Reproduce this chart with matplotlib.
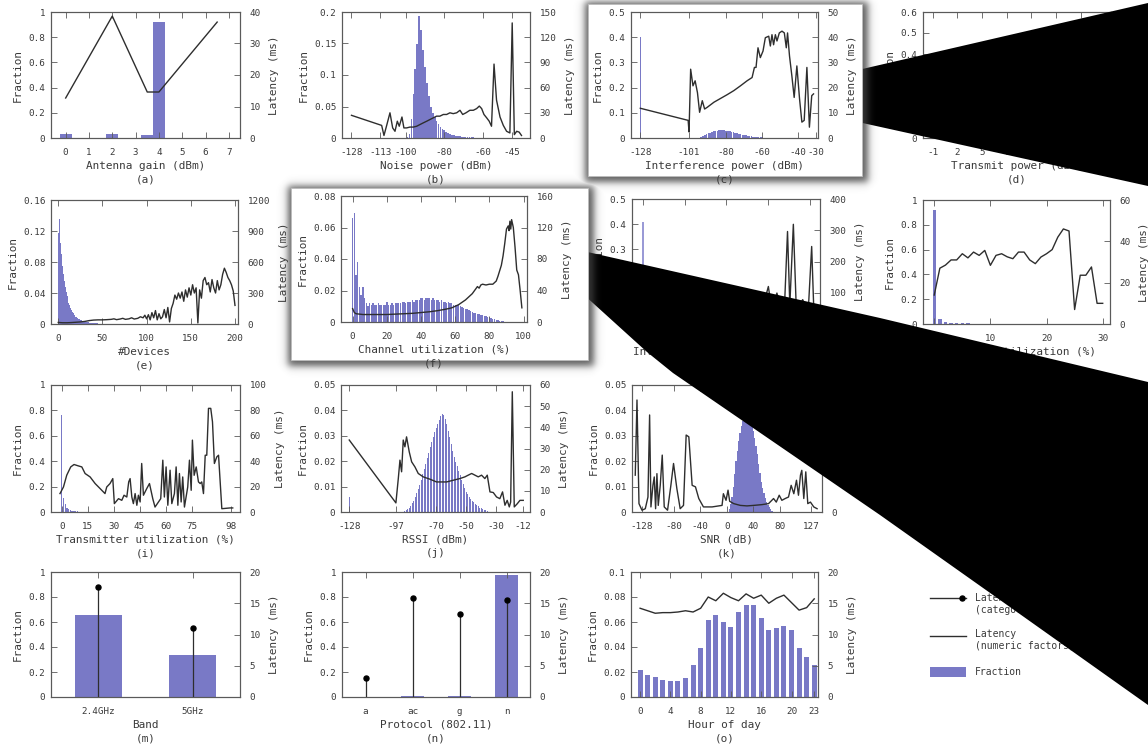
import numpy as np
import matplotlib
matplotlib.use("Agg")
import matplotlib.pyplot as plt
from matplotlib.patches import Polygon, Rectangle
from matplotlib.ticker import FuncFormatter

plt.rcParams['font.family'] = 'DejaVu Sans Mono'

W, H = 1148, 749
BAR = '#7979c6'
LINE = '#2e2e2e'
TXT = '#3a3a3a'
SPINE = '#5a5a5a'

# ---------------- data ----------------
# (a) antenna gain
gain_x = [0, 2, 3.5, 4]
gain_frac = [0.03, 0.03, 0.02, 0.92]
gain_lat_x = [0, 2, 3.5, 4, 6.5]
gain_lat = [12.7, 38.7, 14.6, 14.6, 36.8]

# (b) noise power
noise_bins = list(range(-99, -59))
noise_frac = [0.002, 0.006, 0.03, 0.07, 0.11, 0.15, 0.193, 0.172, 0.14, 0.112,
              0.088, 0.066, 0.05, 0.04, 0.033, 0.027, 0.022, 0.018, 0.015, 0.012,
              0.010, 0.008, 0.0065, 0.0055, 0.0045, 0.0037, 0.003, 0.0025, 0.002, 0.0017,
              0.0014, 0.0012, 0.001, 0.0009, 0.0008, 0.0007, 0.0006, 0.0005, 0.0004, 0.0003]
noise_lat_x = [-128, -112.4, -111.2, -109.8, -108.1, -106.7, -105.5, -104.3, -103.3, -101.9,
               -100.9, -99.5, -97.8, -96, -94.3, -92.6, -90.9, -89.1, -87.4, -85.7,
               -84, -82.3, -80.5, -78.8, -77.1, -75.4, -73.6, -71.9, -70.5, -68.8,
               -66.8, -65, -63.3, -61.9, -60.7, -59.5, -58.1, -56.8, -55.6, -54.3,
               -53, -51.2, -49.5, -47.8, -46.1, -44.9, -43.8, -42.6, -41.3, -40.1]
noise_lat = [27, 15, 3, 15, 30, 12, 8, 20, 14, 25,
             12, 12, 13, 13, 14, 16, 18, 20, 22, 24,
             26, 26, 28, 28, 30, 29, 30, 33, 28, 30,
             33, 33, 35, 38, 35, 28, 24, 20, 14, 88,
             45, 25, 15, 8, 6, 137, 4, 8, 7, 3]

# (c) interference power
intf_bins = [-128] + list(range(-95, -51))
intf_frac = [0.40,
             0.001, 0.003, 0.006, 0.01, 0.014, 0.018, 0.021, 0.024, 0.026, 0.028,
             0.029, 0.03, 0.03, 0.03, 0.03, 0.029, 0.028, 0.027, 0.025, 0.023,
             0.021, 0.019, 0.017, 0.015, 0.013, 0.011, 0.01, 0.008, 0.007, 0.006,
             0.005, 0.004, 0.0035, 0.003, 0.0025, 0.002, 0.0017, 0.0014, 0.0011, 0.0009,
             0.0007, 0.0005, 0.0004, 0.0003]
intf_lat_x = [-128, -101.3, -100.8, -99.9, -98.6, -97.4, -96.1, -94.9, -93.4, -92.1,
              -90.6, -86.9, -83.2, -79.5, -75.8, -72.1, -68.4, -65.6, -64.3, -63.4,
              -62.3, -61, -59.5, -58.2, -56.3, -55.4, -54.5, -53.6, -52.6, -51.7,
              -50.4, -48.9, -47.6, -46.5, -45.8, -44.7, -43.4, -42.1, -40.6, -39.1,
              -37.8, -36.5, -35, -33.6, -32.3, -31.3]
intf_lat = [11.8, 7, 2.4, 27.3, 20.7, 22.7, 18, 10.2, 14.8, 11.5,
            12.2, 14.2, 15.7, 17.2, 18.8, 20.7, 22.7, 24, 28, 28,
            35.8, 31.9, 34.5, 39.8, 40.4, 36.5, 41, 37, 41, 38.5,
            41.7, 42.4, 41.7, 35.8, 41.7, 32.5, 24.7, 16.1, 28.6, 15.5,
            6.3, 7, 28, 4.3, 16.8, 17.5]

# (e) number of devices
dev_bins = list(range(0, 51))
dev_frac = [0.118, 0.136, 0.12, 0.105, 0.09, 0.075, 0.065, 0.056, 0.048, 0.041,
            0.036, 0.031, 0.027, 0.024, 0.021, 0.018, 0.016, 0.014, 0.012, 0.011,
            0.0095, 0.0085, 0.0075, 0.0067, 0.006, 0.0053, 0.0047, 0.0042, 0.0037, 0.0033,
            0.003, 0.0027, 0.0024, 0.0022, 0.002, 0.0018, 0.0016, 0.0015, 0.0014, 0.0013,
            0.0012, 0.0011, 0.001, 0.0009, 0.0008, 0.0007, 0.0006, 0.0006, 0.0005, 0.0005,
            0.0004]
dev_lat_x = [0, 5, 10, 15, 20, 25, 30, 35, 40, 45, 50, 55, 60,
             63, 66, 70, 73, 76, 80, 83, 86, 90, 93, 96, 98,
             100, 102, 104, 106, 108, 110, 112, 114, 116, 118, 120, 122, 124, 126, 128,
             130, 132, 134, 136, 138, 140, 142, 144, 146, 148, 150, 152, 154, 156, 158,
             160, 162, 164, 166, 168, 170, 172, 174, 176, 178, 180, 182, 184, 186, 188,
             190, 192, 194, 196, 198, 200]
dev_lat = [15, 12, 12, 14, 17, 20, 25, 33, 38, 40,
           40, 42, 45, 50, 42, 48, 55, 45, 50, 60,
           48, 55, 70, 60, 85, 50, 90, 40, 110, 60,
           130, 40, 100, 50, 70, 140, 60, 160, 20, 150,
           200, 280, 240, 300, 250, 310, 220, 330, 260, 350,
           280, 380, 300, 350, 10, 330, 250, 420, 450, 380,
           400, 310, 430, 350, 300, 420, 330, 380, 480, 540,
           500, 450, 420, 380, 320, 180]

# (f) channel utilization
chan_bins = list(range(0, 93))
chan_frac = [0.066, 0.069, 0.030, 0.038, 0.022, 0.017, 0.022, 0.015, 0.012, 0.010,
             0.012, 0.011, 0.012, 0.011, 0.011, 0.012, 0.011, 0.011, 0.011, 0.011,
             0.013, 0.011, 0.011, 0.012, 0.011, 0.012, 0.012, 0.012, 0.012, 0.013,
             0.013, 0.012, 0.013, 0.013, 0.013, 0.014, 0.013, 0.014, 0.014, 0.014,
             0.015, 0.015, 0.014, 0.015, 0.015, 0.015, 0.014, 0.015, 0.014, 0.014,
             0.014, 0.013, 0.014, 0.013, 0.013, 0.012, 0.013, 0.012, 0.012, 0.011,
             0.011, 0.011, 0.0105, 0.010, 0.0095, 0.009, 0.0085, 0.008, 0.0075, 0.007,
             0.0065, 0.006, 0.0057, 0.0053, 0.005, 0.0047, 0.0043, 0.004, 0.0036, 0.0033,
             0.003, 0.0026, 0.0022, 0.0018, 0.0015, 0.0012, 0.0009, 0.0007, 0.0005, 0.0003,
             0.0002, 0.0001, 0.0001]
chan_lat_x = [0, 1, 2, 4, 6, 10, 15, 20, 25, 30,
              35, 40, 45, 50, 55, 58, 60, 62, 64, 66,
              68, 70, 72, 73, 74, 75, 76, 78, 80, 82,
              84, 85, 86, 87, 88, 89, 90, 91, 91.5, 92,
              92.5, 93, 94, 95, 96, 97, 98, 99]
chan_lat = [17, 12, 10.5, 10, 9.5, 9.5, 9.5, 9.5, 10, 10.5,
            11, 12, 13, 14.5, 16.5, 18, 20, 22, 25, 28,
            32, 36, 42, 45, 43, 47, 48, 47, 48, 48,
            52, 58, 65, 72, 84, 100, 118, 122, 116, 128,
            118, 130, 120, 95, 66, 60, 40, 18]

# (g) interference utilization
iu_bins = [0]
iu_frac = [0.41]
iu_lat_x = [0, 5, 10, 15, 20, 25, 30, 35, 40, 45, 50, 55, 58, 60.2, 61.5,
            63, 64.3, 66, 68, 69.4, 70.5, 72.2, 73.5, 75, 76.7, 78, 79.5, 81, 82]
iu_lat = [30, 25, 28, 30, 32, 35, 38, 40, 45, 50, 55, 60, 65, 120, 60,
          70, 99, 60, 65, 296, 60, 319, 70, 60, 78, 55, 60, 248, 50]

# (h) receiver utilization
rx_bins = list(range(0, 16))
rx_frac = [0.92, 0.04, 0.02, 0.01, 0.008, 0.006, 0.005, 0.004, 0.004, 0.003,
           0.003, 0.003, 0.002, 0.002, 0.002, 0.002]
rx_lat_x = list(range(0, 31))
rx_lat = [14, 27, 28.5, 31, 31, 34, 32, 34.8, 33.2, 35.6,
          28.4, 33.2, 34, 32.5, 31.6, 34.8, 34.8, 31, 29.2, 32.4,
          34, 36, 42, 46, 45, 7, 23.6, 23.6, 27.6, 10, 10]

# (i) transmitter utilization
tx_bins = list(range(0, 16))
tx_frac = [0.76, 0.11, 0.06, 0.035, 0.022, 0.014, 0.01, 0.007, 0.005, 0.004,
           0.003, 0.002, 0.002, 0.0015, 0.001, 0.001]
tx_lat_x = [-1, 1, 2.9, 5.2, 7.1, 9.6, 11.6, 13.5, 16.4, 19.3,
            22.2, 25, 26, 27.9, 29.5, 30.4, 32.8, 34.7, 36, 37.6,
            38.7, 39.5, 40.5, 41.4, 42.4, 43.4, 44.3, 45.3, 46.2, 47.2,
            49.1, 50.7, 52.6, 53.9, 55.9, 57.2, 58.4, 59.3, 60.3, 61.3,
            62.6, 63.6, 65.1, 66.1, 67.1, 68, 69, 69.9, 70.9, 72.8,
            73.8, 74.8, 75.5, 76.5, 77.7, 79, 80, 80.9, 81.9, 82.9,
            83.8, 84.8, 86.1, 87.1, 88.2, 89.6, 90.6, 92.5, 97.3, 98.8]
tx_lat = [14.5, 19.7, 29, 35.5, 37.4, 36.3, 35.5, 30.3, 27.6, 22.4,
          18.4, 14.5, 19.7, 22.4, 26.3, 6.6, 10.5, 9.2, 13.2, 11.8,
          23.7, 26.3, 11.8, 6.6, 14.5, 5.3, 13.2, 7.9, 38.2, 13.2,
          18.4, 22.4, 10.5, 3.9, 7.9, 10.5, 40.8, 11.8, 35.5, 5.3,
          32.9, 6.6, 14.5, 35.5, 5.3, 30.3, 7.9, 27.6, 3.9, 19.7,
          40.8, 17.1, 56.6, 28.9, 35.5, 23.7, 22.4, 23.7, 14.5, 44.7,
          44.7, 81.6, 81.6, 71, 38.2, 43.4, 44.7, 2.6, 3.2, 3.2]

# (j) RSSI
rssi_bins = [-128] + list(range(-91, -35))
rssi_frac = [0.006,
             0.0003, 0.0006, 0.001, 0.0016, 0.0024, 0.0034, 0.0045, 0.0058, 0.0073, 0.009,
             0.0108, 0.0127, 0.0148, 0.0169, 0.019, 0.0212, 0.0233, 0.0254, 0.0275, 0.0295,
             0.0313, 0.033, 0.0346, 0.0362, 0.0377, 0.0385, 0.038, 0.0365, 0.0345, 0.032,
             0.0295, 0.0268, 0.0242, 0.0216, 0.0195, 0.018, 0.016, 0.0145, 0.0125, 0.011,
             0.0095, 0.008, 0.007, 0.006, 0.0052, 0.0045, 0.0039, 0.0033, 0.0027, 0.0022,
             0.0017, 0.0014, 0.0011, 0.0008, 0.0006, 0.0005]
rssi_lat_x = [-128, -96.9, -95.3, -94.2, -93.1, -92, -90.9, -89.8, -88, -86.4,
              -84.2, -82, -78.7, -74.2, -69.8, -66.4, -63.1, -58.7, -54.2, -50.9,
              -48.7, -46.4, -44.2, -42, -39.8, -37.6, -36, -34.2, -32, -29.8,
              -27.6, -25.8, -24.2, -22.7, -21.3, -20.4, -19.3, -18, -16, -14.2, -12]
rssi_lat = [34, 4.3, 15.8, 24.5, 19, 34, 30.8, 35.5, 28.4, 23.7,
            21.3, 18.2, 16.6, 15.5, 14.2, 14.2, 14.2, 15, 15.8, 16.6,
            17.4, 18.2, 17.4, 16.6, 17.4, 15.8, 17.4, 9.5, 9.2, 7.1,
            6.3, 9.5, 3.2, 5.5, 2.4, 4.7, 56.8, 2.4, 3.9, 5.5, 5.5]

# (k) SNR
snr_bins = list(range(4, 70, 2))
snr_frac = [0.001, 0.003, 0.006, 0.01, 0.015, 0.02, 0.024, 0.028, 0.031, 0.034,
            0.036, 0.038, 0.04, 0.041, 0.041, 0.04, 0.038, 0.035, 0.032, 0.029,
            0.026, 0.023, 0.019, 0.0155, 0.012, 0.0095, 0.0075, 0.0055, 0.004, 0.0028,
            0.0018, 0.001, 0.0005]
snr_lat_x = [-137.6, -135, -132, -127.5, -122.5, -118.5, -116, -114, -111, -109,
             -107, -105, -103, -100, -97, -94, -89, -84, -80, -75,
             -70, -65, -61, -57, -52, -47, -42, -35, -22, -7,
             -5, -1, 2, 4.5, 10.5, 20.5, 30.5, 40.5, 53, 63,
             70.5, 74.6, 79, 83, 88, 93, 97, 101, 105, 108,
             111, 113, 116, 119, 122, 126, 131, 136]
snr_lat = [145, 441, 33, 7, 13, 59, 382, 20, 105, 138,
           13, 151, 26, 105, 224, 20, 7, 105, 191, 92,
           13, 26, 303, 296, 105, 99, 53, 20, 20, 26,
           72, 46, 86, 42, 33, 26, 24, 26, 29, 33,
           53, 39, 66, 46, 53, 59, 105, 72, 125, 66,
           145, 164, 53, 158, 33, 39, 20, 13]

# (m) band
bands = ['2.4GHz', '5GHz']
band_frac = [0.66, 0.34]
band_lat = [17.6, 11.1]

# (n) protocol
protocols = ['a', 'ac', 'g', 'n']
proto_frac = [0.002, 0.01, 0.006, 0.98]
proto_lat = [3.0, 15.8, 13.3, 15.5]

# (o) hour of day
hours = list(range(0, 24))
hour_frac = [0.022, 0.018, 0.016, 0.014, 0.013, 0.013, 0.015, 0.026, 0.039, 0.062,
             0.066, 0.06, 0.056, 0.068, 0.074, 0.074, 0.063, 0.054, 0.055, 0.057,
             0.054, 0.039, 0.032, 0.026]
hour_lat = [14.2, 13.8, 13.4, 13.5, 13.5, 13.6, 13.8, 13.6, 14.2, 16.0,
            15.4, 16.6, 15.9, 15.4, 16.5, 15.8, 16.3, 15.0, 15.8, 16.3,
            15.1, 13.9, 14.3, 15.7]

# ---------------- figure ----------------
fig = plt.figure(figsize=(W / 100, H / 100), dpi=100)
num = FuncFormatter(lambda v, p: f'{v:g}')


def place(rect, z):
    x0, y0, x1, y1 = rect
    return fig.add_axes([x0 / W, 1 - y1 / H, (x1 - x0) / W, (y1 - y0) / H], zorder=z)


def steps(top, step):
    return np.linspace(0, top, int(round(top / step)) + 1)


def panel(rect, xlim, xticks, frac, lat, xlabel, cap, z=1, xticklabels=None):
    ax = place(rect, z)
    ax2 = ax.twinx()
    ax2.set_zorder(z + 0.01)
    ax.set_xlim(*xlim)
    if xticklabels is None:
        ax.set_xticks(xticks)
        ax.xaxis.set_major_formatter(num)
    else:
        ax.set_xticks(xticks, xticklabels)
    fy = steps(*frac)
    ly = steps(*lat)
    ax.set_ylim(0, fy[-1])
    ax.set_yticks(fy)
    ax.yaxis.set_major_formatter(num)
    ax2.set_ylim(0, ly[-1])
    ax2.set_yticks(ly)
    ax2.yaxis.set_major_formatter(num)
    for a in (ax, ax2):
        for s in a.spines.values():
            s.set_color(SPINE)
            s.set_linewidth(0.8)
    ax.tick_params(axis='x', direction='in', top=True, bottom=True, length=4,
                   width=0.6, color=SPINE, labelsize=6.7, labelcolor=TXT, pad=7)
    ax.tick_params(axis='y', direction='in', left=True, right=False, length=4,
                   width=0.6, color=SPINE, labelsize=6.7, labelcolor=TXT, pad=4)
    ax2.tick_params(axis='y', direction='in', right=True, left=False, length=4,
                    width=0.6, color=SPINE, labelsize=6.7, labelcolor=TXT, pad=7)
    ax.set_ylabel('Fraction', fontsize=7.9, color=TXT, labelpad=4)
    ax2.set_ylabel('Latency (ms)', fontsize=7.9, color=TXT, labelpad=6)
    label = f'{xlabel}\n({cap})' if xlabel else f'({cap})'
    ax.set_xlabel(label, fontsize=7.9, color=TXT, labelpad=3, linespacing=1.4)
    return ax, ax2


# (a)
ax, ax2 = panel((51, 12, 240, 138), (-0.63, 7.48), range(0, 8), (1, 0.2), (40, 10),
                'Antenna gain (dBm)', 'a')
ax.bar(gain_x, gain_frac, width=0.5, color=BAR, linewidth=0)
ax2.plot(gain_lat_x, gain_lat, color=LINE, lw=1.0)

# (b)
ax, ax2 = panel((342, 12, 530, 138), (-132.9, -35.7), [-128, -113, -100, -80, -60, -45],
                (0.2, 0.05), (150, 30), 'Noise power (dBm)', 'b')
ax.bar(noise_bins, noise_frac, width=0.9, color=BAR, linewidth=0)
ax2.plot(noise_lat_x, noise_lat, color=LINE, lw=1.0)

# (c) highlighted panel
ax, ax2 = panel((631, 12, 818, 138), (-133.2, -28.8), [-128, -101, -80, -60, -40, -30],
                (0.5, 0.1), (50, 10), 'Interference power (dBm)', 'c', z=10)
ax.bar(intf_bins, intf_frac, width=0.9, color=BAR, linewidth=0)
ax2.plot(intf_lat_x, intf_lat, color=LINE, lw=1.0)

# (d)
ax, ax2 = panel((923, 12, 1111, 138), (-2.2, 20.7), [-1, 2, 5, 8, 11, 14, 17, 20],
                (0.6, 0.1), (60, 20), 'Transmit power (dBm)', 'd')

# (e)
ax, ax2 = panel((51, 200, 238, 324), (-8.2, 203.4), [0, 50, 100, 150, 200],
                (0.16, 0.04), (1200, 300), '#Devices', 'e')
ax.bar(dev_bins, dev_frac, width=1.0, color=BAR, linewidth=0)
ax2.plot(dev_lat_x, dev_lat, color=LINE, lw=1.0)

# (f) highlighted panel
ax, ax2 = panel((341, 196, 527, 322), (-6.8, 102), [0, 20, 40, 60, 80, 100],
                (0.08, 0.02), (160, 40), 'Channel utilization (%)', 'f', z=10)
ax.bar(chan_bins, chan_frac, width=0.8, color=BAR, linewidth=0)
ax2.plot(chan_lat_x, chan_lat, color=LINE, lw=1.0)

# (g)
ax, ax2 = panel((632, 199, 820, 324), (-5.3, 85), [0, 20, 40, 60, 80],
                (0.5, 0.1), (400, 100), 'Interference utilization (%)', 'g')
ax.bar(iu_bins, iu_frac, width=0.8, color='#9a9ad6', linewidth=0)
ax2.plot(iu_lat_x, iu_lat, color=LINE, lw=1.0)

# (h)
ax, ax2 = panel((923, 200, 1110, 324), (-2, 31.3), [0, 10, 20, 30],
                (1, 0.2), (60, 20), 'Receiver utilization (%)', 'h')
ax.bar(rx_bins, rx_frac, width=0.6, color=BAR, linewidth=0)
ax2.plot(rx_lat_x, rx_lat, color=LINE, lw=1.0)

# (i)
ax, ax2 = panel((51, 385, 240, 512), (-6.2, 103), [0, 15, 30, 45, 60, 75, 98],
                (1, 0.2), (100, 20), 'Transmitter utilization (%)', 'i')
ax.bar(tx_bins, tx_frac, width=0.8, color=BAR, linewidth=0)
ax2.plot(tx_lat_x, tx_lat, color=LINE, lw=1.0)

# (j)
ax, ax2 = panel((341, 385, 530, 512), (-133.5, -7.5), [-128, -97, -70, -50, -30, -12],
                (0.05, 0.01), (60, 10), 'RSSI (dBm)', 'j')
ax.bar(rssi_bins, rssi_frac, width=0.85, color=BAR, linewidth=0)
ax2.plot(rssi_lat_x, rssi_lat, color=LINE, lw=1.0)

# (k)
ax, ax2 = panel((632, 385, 822, 512), (-142.5, 143.4), [-128, -80, -40, 0, 40, 80, 127],
                (0.05, 0.01), (400, 200), 'SNR (dB)', 'k')
ax2.set_ylim(0, 500)
ax.bar(snr_bins, snr_frac, width=2.0, color=BAR, linewidth=0)
ax2.plot(snr_lat_x, snr_lat, color=LINE, lw=1.0)

# (l)
ax, ax2 = panel((923, 385, 1111, 512), (0, 1), [0, 0.5, 1],
                (1, 0.2), (20, 5), '', 'l')

# (m)
ax, ax2 = panel((51, 572, 240, 697), (-0.5, 1.5), [0, 1], (1, 0.2), (20, 5),
                'Band', 'm', xticklabels=bands)
ax.bar(range(len(bands)), band_frac, width=0.5, color=BAR, linewidth=0)
ax2.vlines(range(len(bands)), 0, band_lat, color=LINE, lw=0.9)
ax2.plot(range(len(bands)), band_lat, 'o', color='black', ms=3.6)

# (n)
ax, ax2 = panel((342, 572, 530, 697), (-0.5, 3.5), [0, 1, 2, 3], (1, 0.2), (20, 5),
                'Protocol (802.11)', 'n', xticklabels=protocols)
ax.bar(range(len(protocols)), proto_frac, width=0.5, color=BAR, linewidth=0)
ax2.vlines(range(len(protocols)), 0, proto_lat, color=LINE, lw=0.9)
ax2.plot(range(len(protocols)), proto_lat, 'o', color='black', ms=3.6)

# (o)
ax, ax2 = panel((631, 572, 818, 697), (-1.2, 23.5), [0, 4, 8, 12, 16, 20, 23],
                (0.1, 0.02), (20, 5), 'Hour of day', 'o')
ax.bar(hours, hour_frac, width=0.65, color=BAR, linewidth=0)
ax2.plot(hours, hour_lat, color=LINE, lw=1.0)

# (p) key
kp = place((900, 560, 1148, 720), 1)
kp.set_xlim(900, 1148)
kp.set_ylim(720, 560)
kp.axis('off')
kp.plot([930, 966], [598, 598], color=LINE, lw=1.0)
kp.plot([962], [598], 'o', color='black', ms=3.6)
kp.text(975, 598, 'Latency', fontsize=7, color=TXT, va='center')
kp.text(975, 610, '(categorical factors)', fontsize=7, color=TXT, va='center')
kp.plot([930, 966], [636, 636], color=LINE, lw=1.0)
kp.text(975, 634, 'Latency', fontsize=7, color=TXT, va='center')
kp.text(975, 646, '(numeric factors)', fontsize=7, color=TXT, va='center')
kp.add_patch(Rectangle((930, 667), 36, 10, facecolor=BAR, edgecolor='none'))
kp.text(975, 672, 'Fraction', fontsize=7, color=TXT, va='center')

# ---------------- callout layer ----------------
ov = fig.add_axes([0, 0, 1, 1], zorder=5)
ov.axis('off')
ov.patch.set_alpha(0)

wedge_c = [(858, 70), (1148, 3), (1148, 186), (858, 122)]
wedge_f = [(583, 251), (880, 318), (1148, 382), (1148, 705), (993, 595),
           (880, 515), (673, 373), (647, 352), (583, 294)]
for pts in (wedge_c, wedge_f):
    ov.add_patch(Polygon(np.array(pts, float), closed=True, facecolor='black',
                         edgecolor='none', zorder=1))

box_c = (588, 4, 862, 176)
box_f = (291, 188, 588, 360)


def soft_rect(x0, y0, x1, y1, s):
    xs = np.arange(W) + 0.5
    ys = np.arange(H) + 0.5
    gx = 0.5 * (np.tanh((xs - x0) / s) - np.tanh((xs - x1) / s))
    gy = 0.5 * (np.tanh((ys - y0) / s) - np.tanh((ys - y1) / s))
    return np.outer(gy, gx)


shade = np.zeros((H, W))
for (x0, y0, x1, y1) in (box_c, box_f):
    shade = np.maximum(shade, soft_rect(x0 - 3, y0 - 2, x1 + 6, y1 + 6, 4.5))
rgba = np.zeros((H, W, 4))
rgba[..., :3] = 0.25
rgba[..., 3] = shade * 0.85
ov.imshow(rgba, extent=(0, W, H, 0), zorder=2, interpolation='nearest', aspect='auto')

for (x0, y0, x1, y1) in (box_c, box_f):
    ov.add_patch(Rectangle((x0, y0), x1 - x0, y1 - y0, facecolor='white',
                           edgecolor='#bdbdbd', lw=0.6, zorder=3))
ov.set_xlim(0, W)
ov.set_ylim(H, 0)

fig.savefig('out.png', dpi=100)
